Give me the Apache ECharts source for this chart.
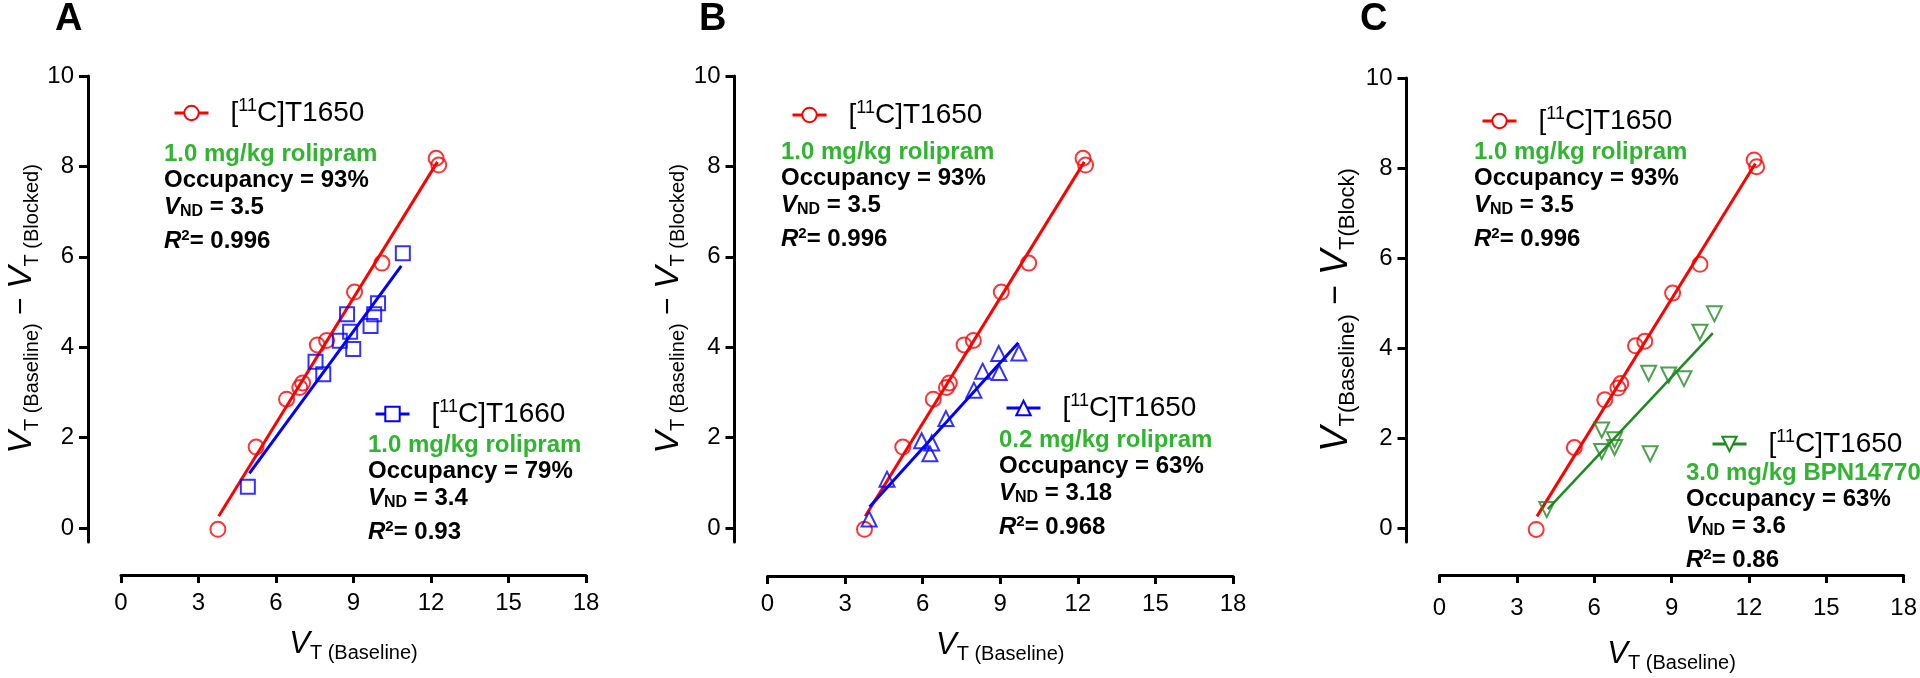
<!DOCTYPE html>
<html><head><meta charset="utf-8">
<script src="https://cdn.jsdelivr.net/npm/echarts@6/dist/echarts.min.js"></script>
<style>html,body{margin:0;padding:0;background:#fff}#c{width:1920px;height:678px}</style>
</head><body><div id="c"></div>
<script>
// ---------------- data ----------------
const xTicks = [0, 3, 6, 9, 12, 15, 18];
const yTicks = [0, 2, 4, 6, 8, 10];
const panelLetters = ['A', 'B', 'C'];

// [11C]T1650, 1.0 mg/kg rolipram (shown in A, B and C)
const t1650Rol10 = [[3.75,-0.03],[5.23,1.79],[6.41,2.85],[6.92,3.11],[7.03,3.21],[7.6,4.05],[7.96,4.15],[9.04,5.22],[10.1,5.86],[12.2,8.18],[12.3,8.03]];
const t1650Rol10Fit = [[3.78,0.26],[12.25,8.1]];
// [11C]T1660, 1.0 mg/kg rolipram (A)
const t1660Rol10 = [[4.91,0.91],[7.53,3.68],[7.83,3.4],[8.47,4.14],[8.75,4.73],[8.87,4.34],[8.99,3.96],[9.66,4.47],[9.8,4.73],[9.95,4.97],[10.91,6.08]];
const t1660Rol10Fit = [[4.97,1.21],[10.85,5.8]];
// [11C]T1650, 0.2 mg/kg rolipram (B)
const t1650Rol02 = [[3.93,0.2],[4.62,1.08],[5.96,1.93],[6.35,1.88],[6.28,1.64],[6.9,2.42],[7.98,3.05],[8.32,3.47],[8.96,3.44],[8.94,3.86],[9.72,3.87]];
const t1650Rol02Fit = [[3.95,0.47],[9.7,4.1]];
// [11C]T1650, 3.0 mg/kg BPN14770 (C)
const t1650Bpn = [[4.16,0.41],[6.29,2.18],[6.29,1.7],[6.79,1.96],[6.79,1.79],[8.11,3.44],[8.17,1.65],[8.89,3.4],[9.48,3.32],[10.1,4.35],[10.66,4.76]];
const t1650BpnFit = [[4.2,0.42],[10.6,4.33]];

// annotation texts: [tracer number, dose text, occupancy, VND, R2]
const annA1 = ['T1650', '1.0 mg/kg rolipram', '93%', '3.5', '0.996'];
const annA2 = ['T1660', '1.0 mg/kg rolipram', '79%', '3.4', '0.93'];
const annB1 = ['T1650', '1.0 mg/kg rolipram', '93%', '3.5', '0.996'];
const annB2 = ['T1650', '0.2 mg/kg rolipram', '63%', '3.18', '0.968'];
const annC1 = ['T1650', '1.0 mg/kg rolipram', '93%', '3.5', '0.996'];
const annC2 = ['T1650', '3.0 mg/kg BPN14770', '63%', '3.6', '0.86'];

// ---------------- styling ----------------
const FF = '"Liberation Sans", Arial, sans-serif';
const RED = '#ff0000', BLUE = '#0000ff', DKGREEN = '#1f8a1f', GREEN = '#2fb52f';
const DOWN_TRI = 'path://M0,0L10,0L5,9Z';

const grids = [
  {left: 121, top: 76, width: 465, height: 466},
  {left: 767.5, top: 76, width: 465.5, height: 466},
  {left: 1439.5, top: 78, width: 465.5, height: 465}
];
const yMin = -0.31;

function nameRich(big, sub) {
  return {
    v: {fontFamily: FF, fontSize: big, fontStyle: 'italic', color: '#000', lineHeight: big + 6},
    t: {fontFamily: FF, fontSize: sub, color: '#000', lineHeight: sub, verticalAlign: 'bottom'},
    m: {fontFamily: FF, fontSize: big - 4, color: '#000', lineHeight: big + 6}
  };
}

const yNames = [
  '{v|V}{t|T (Baseline)}{m| − }{v|V}{t|T (Blocked)}',
  '{v|V}{t|T (Baseline)}{m| − }{v|V}{t|T (Blocked)}',
  '{v|V}{t|T(Baseline)}{m| − }{v|V}{t|T(Block)}'
];
const xName = '{v|V}{t|T (Baseline)}';

const xAxes = grids.map((g, i) => ({
  gridIndex: i, type: 'value', min: xTicks[0], max: xTicks[xTicks.length - 1], interval: 3,
  offset: i === 0 ? 33 : 34 - (i === 2 ? 1 : 0),
  axisLine: {show: true, onZero: false, lineStyle: {color: '#000', width: 3}},
  axisTick: {show: true, length: 8, lineStyle: {color: '#000', width: 3}},
  axisLabel: {fontFamily: FF, fontSize: 24, color: '#000', margin: i === 2 ? 21 : 16},
  splitLine: {show: false},
  name: xName, nameLocation: 'middle', nameGap: i === 2 ? 61 : 51,
  nameTextStyle: {rich: nameRich(31, 20)}
}));

const yAxes = grids.map((g, i) => ({
  gridIndex: i, type: 'value', min: yMin, max: yTicks[yTicks.length - 1],
  offset: 33,
  axisLine: {show: true, onZero: false, lineStyle: {color: '#000', width: 3}},
  axisTick: {show: true, length: 9, lineStyle: {color: '#000', width: 3}, customValues: yTicks},
  axisLabel: {fontFamily: FF, fontSize: 24, color: '#000', margin: 14, customValues: yTicks},
  splitLine: {show: false},
  name: yNames[i], nameLocation: 'middle', nameGap: i === 2 ? 48 : 46,
  nameTextStyle: {rich: i === 2 ? nameRich(38, 22) : nameRich(34, 20)}
}));

function pts(name, idx, data, symbol, size, color) {
  return {
    name, type: 'scatter', xAxisIndex: idx, yAxisIndex: idx, data, symbol, symbolSize: size,
    itemStyle: {color: 'rgba(255,255,255,0)', borderColor: color, borderWidth: 2}, z: 3, silent: true
  };
}
function fit(name, idx, data, symbol, size, color, w) {
  return {
    name, type: 'line', xAxisIndex: idx, yAxisIndex: idx, data, symbol, symbolSize: size, showSymbol: false,
    lineStyle: {color, width: w}, itemStyle: {color: '#fff', borderColor: color, borderWidth: 2}, z: 2, silent: true
  };
}

const series = [
  pts('A1p', 0, t1650Rol10, 'circle', 15, RED),
  pts('A2p', 0, t1660Rol10, 'rect', 14, BLUE),
  fit('A1', 0, t1650Rol10Fit, 'circle', 15, RED, 3),
  fit('A2', 0, t1660Rol10Fit, 'rect', 14, BLUE, 3),
  pts('B1p', 1, t1650Rol10, 'circle', 15, RED),
  pts('B2p', 1, t1650Rol02, 'triangle', 15, BLUE),
  fit('B1', 1, t1650Rol10Fit, 'circle', 15, RED, 3),
  fit('B2', 1, t1650Rol02Fit, 'triangle', 15, BLUE, 3),
  pts('C1p', 2, t1650Rol10, 'circle', 15, RED),
  pts('C2p', 2, t1650Bpn, DOWN_TRI, 15, DKGREEN),
  fit('C1', 2, t1650Rol10Fit, 'circle', 15, RED, 3),
  fit('C2', 2, t1650BpnFit, DOWN_TRI, 15, DKGREEN, 2.5)
];

// legends: [series name, ann, icon left, icon center y, line color]
const legendSpecs = [
  ['A1', annA1, 173, 113, RED], ['A2', annA2, 374, 414, BLUE],
  ['B1', annB1, 791, 115, RED], ['B2', annB2, 1005, 408, BLUE],
  ['C1', annC1, 1481, 121, RED], ['C2', annC2, 1711, 444, DKGREEN]
];
const legendRich = {
  n: {fontFamily: FF, fontSize: 28, color: '#000', lineHeight: 32},
  s: {fontFamily: FF, fontSize: 18, color: '#000', lineHeight: 16, verticalAlign: 'top'}
};
const legends = legendSpecs.map(([name, ann, lx, cy, col]) => ({
  left: lx, top: cy - 16, padding: 0, itemWidth: 34, itemHeight: 18, selectedMode: false,
  data: [name],
  lineStyle: {width: 3, color: col},
  itemStyle: {color: '#fff', borderColor: col, borderWidth: 2},
  formatter: () => '{n|[}{s|11}{n|C]' + ann[0] + '}',
  textStyle: {padding: [0, 0, 0, 17], rich: legendRich}
}));

// annotation blocks: [ann, left, first line center y]
const blockSpecs = [
  [annA1, 164, 154], [annA2, 368, 445],
  [annB1, 781, 152], [annB2, 999, 440],
  [annC1, 1474, 152], [annC2, 1686, 473]
];
const annRich = {
  g: {fontFamily: FF, fontSize: 24, fontWeight: 'bold', color: GREEN, lineHeight: 26},
  b: {fontFamily: FF, fontSize: 24, fontWeight: 'bold', color: '#000', lineHeight: 26},
  i: {fontFamily: FF, fontSize: 24, fontWeight: 'bold', fontStyle: 'italic', color: '#000', lineHeight: 26},
  sub: {fontFamily: FF, fontSize: 16, fontWeight: 'bold', color: '#000', lineHeight: 14, verticalAlign: 'bottom'},
  sup: {fontFamily: FF, fontSize: 15, fontWeight: 'bold', color: '#000', lineHeight: 14, verticalAlign: 'top'}
};
const lineOffsets = [0, 26.5, 53, 87];
const titles = [];
blockSpecs.forEach(([ann, lx, cy]) => {
  const lines = [
    '{g|' + ann[1] + '}',
    '{b|Occupancy = ' + ann[2] + '}',
    '{i|V}{sub|ND}{b| = ' + ann[3] + '}',
    '{i|R}{sup|2}{b|= ' + ann[4] + '}'
  ];
  lines.forEach((t, k) => {
    titles.push({left: lx, top: cy + lineOffsets[k] - 13, padding: 0, text: t, textStyle: {rich: annRich}});
  });
});
const letterLeft = [55, 699, 1360];
panelLetters.forEach((L, i) => {
  titles.push({left: letterLeft[i], top: 1, padding: 0, text: L,
    textStyle: {fontFamily: FF, fontSize: 38, fontWeight: 'bold', color: '#000'}});
});

const chart = echarts.init(document.getElementById('c'), null, {renderer: 'canvas'});
chart.setOption({
  animation: false,
  backgroundColor: '#fff',
  grid: grids,
  xAxis: xAxes,
  yAxis: yAxes,
  legend: legends,
  title: titles,
  series
});
</script></body></html>
